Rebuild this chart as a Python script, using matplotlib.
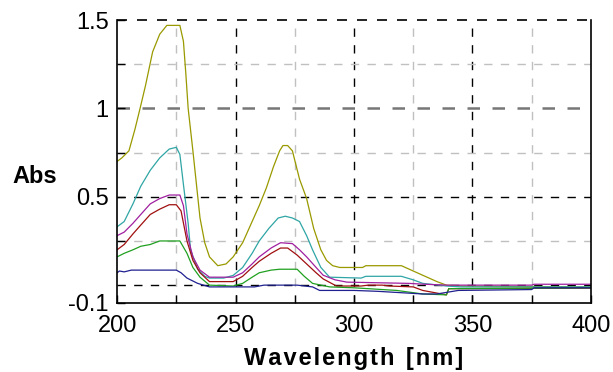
import matplotlib
matplotlib.use("Agg")
import matplotlib.pyplot as plt

plt.rcParams['font.family'] = ['Liberation Sans', 'DejaVu Sans']

# spectra (wavelength in nm, absorbance)
olive_x = [200, 202, 205, 207.5, 209.7, 212, 215, 218, 221, 226.5, 228, 229, 230, 232, 235, 237, 239,
           242.5, 246, 249, 253, 257, 260, 263, 266, 268.6, 270, 272, 274, 277, 280, 283, 286, 288.4,
           291, 294, 303.6, 305, 320, 325, 330, 335, 339, 345, 400]
olive_y = [0.70, 0.72, 0.76, 0.88, 1.00, 1.13, 1.32, 1.42, 1.47, 1.47, 1.38, 1.20, 1.00, 0.76, 0.38,
           0.24, 0.16, 0.11, 0.12, 0.16, 0.24, 0.36, 0.45, 0.55, 0.67, 0.76, 0.79, 0.79, 0.76, 0.60,
           0.49, 0.32, 0.20, 0.14, 0.11, 0.10, 0.10, 0.11, 0.11, 0.08, 0.05, 0.02, 0.0, -0.005, -0.01]

teal_x = [200, 203, 206.7, 210, 214, 218, 222, 225, 226.5, 228, 230, 231, 234, 237, 239, 245, 249,
          253, 257, 260, 264, 268, 271, 274, 277, 280, 282.5, 286, 289.7, 303, 305, 320, 325, 329,
          339, 345, 400]
teal_y = [0.33, 0.36, 0.46, 0.56, 0.65, 0.72, 0.77, 0.78, 0.74, 0.57, 0.35, 0.20, 0.09, 0.05, 0.04,
          0.04, 0.055, 0.10, 0.18, 0.25, 0.32, 0.38, 0.39, 0.38, 0.36, 0.28, 0.20, 0.10, 0.045, 0.04,
          0.05, 0.05, 0.03, 0.01, -0.005, -0.01, -0.01]

magenta_x = [200, 203, 206.7, 210, 214, 218, 222, 226.5, 228, 229.5, 232, 235, 239, 249, 253, 257,
             260, 265, 269, 274, 277, 280, 284, 287, 292, 297, 323, 330, 339, 375, 376, 400]
magenta_y = [0.28, 0.30, 0.35, 0.40, 0.46, 0.49, 0.51, 0.51, 0.45, 0.29, 0.16, 0.085, 0.045, 0.045,
             0.07, 0.12, 0.16, 0.21, 0.24, 0.235, 0.20, 0.16, 0.10, 0.056, 0.03, 0.017, 0.01, 0.005,
             0.0, 0.0, 0.005, 0.005]

red_x = [200, 203, 206.7, 210, 214, 218, 222, 225, 227, 229.5, 232, 235, 239, 249, 253, 257, 260,
         265, 269, 272, 276, 280, 284, 287, 292.6, 303, 306, 312, 315, 325, 329, 339, 340, 400]
red_y = [0.20, 0.23, 0.29, 0.34, 0.40, 0.43, 0.455, 0.455, 0.42, 0.25, 0.14, 0.07, 0.02, 0.02, 0.05,
         0.10, 0.135, 0.18, 0.21, 0.21, 0.17, 0.12, 0.07, 0.035, -0.005, -0.005, 0.0, 0.0, -0.005,
         -0.01, -0.03, -0.055, -0.02, -0.017]

green_x = [200, 203, 206.7, 210, 214, 218, 226.5, 229.5, 232, 235, 239, 249, 253, 257, 260, 265,
           268.6, 276, 279, 282.5, 289.7, 300, 318, 329, 339, 340, 400]
green_y = [0.16, 0.18, 0.20, 0.22, 0.23, 0.25, 0.25, 0.18, 0.10, 0.045, 0.0, -0.005, 0.01, 0.045,
           0.07, 0.085, 0.09, 0.09, 0.05, 0.01, -0.01, -0.015, -0.03, -0.05, -0.055, -0.02, -0.015]

navy_x = [200, 201, 203, 206, 225, 227, 229.5, 234, 239, 258, 260, 262, 276, 282.5, 285.5, 300,
          310, 329, 335, 344, 375, 376, 400]
navy_y = [0.07, 0.08, 0.075, 0.085, 0.085, 0.07, 0.04, 0.01, -0.01, -0.01, -0.005, 0.0, 0.0, -0.01,
          -0.03, -0.03, -0.035, -0.05, -0.05, -0.03, -0.025, -0.015, -0.015]

series = [
    (olive_x, olive_y, "#999900"),
    (teal_x, teal_y, "#2fa5a5"),
    (magenta_x, magenta_y, "#a020a0"),
    (red_x, red_y, "#a01010"),
    (green_x, green_y, "#20a020"),
    (navy_x, navy_y, "#202090"),
]

fig = plt.figure(figsize=(6.13, 3.72), dpi=100)
ax = fig.add_axes([0.191, 0.186, 0.773, 0.760])

# grid: black for the main lines, light grey in between
for x in [225, 275, 325, 375]:
    ax.axvline(x, color="#c0c0c0", lw=1, ls=(0, (6, 6)), zorder=0)
for x in [250, 300, 350]:
    ax.axvline(x, color="black", lw=1, ls=(0, (6, 6)), zorder=0)
for y in [0.25, 0.75, 1.25]:
    ax.axhline(y, color="#c0c0c0", lw=1, ls=(0, (6, 6)), zorder=0)
for y in [0.0, 0.5]:
    ax.axhline(y, color="black", lw=1, ls=(0, (6, 6)), zorder=0)
ax.axhline(1.0, color="#777777", lw=1.8, ls=(0, (5, 5)), zorder=0)
ax.axhline(1.5, color="black", lw=1.2, ls=(0, (6, 6)), zorder=0, clip_on=False)

for xs, ys, c in series:
    ax.plot(xs, ys, color=c, lw=0.9)

ax.set_xlim(200, 400)
ax.set_ylim(-0.1, 1.5)
ax.set_xticks([200, 250, 300, 350, 400])
ax.set_xticks([225, 275, 325, 375], minor=True)
ax.set_yticks([-0.1, 0.5, 1, 1.5])
ax.set_yticklabels(["-0.1", "0.5", "1", "1.5"])
ax.set_yticks([0.25, 0.75, 1.25], minor=True)
ax.tick_params(which="both", direction="in", length=6, width=1, labelsize=17,
               top=False, right=False)
ax.tick_params(axis="x", pad=9)
ax.tick_params(axis="y", pad=6)
ax.spines["top"].set_visible(False)
for s in ["left", "right", "bottom"]:
    ax.spines[s].set_linewidth(1.2)

# the label in the reference is letter-spaced
xlabel = "\u200a".join("Wavelength") + " \u2009" + "\u200a".join("[nm]")
ax.set_xlabel(xlabel, fontsize=17, fontweight="bold", labelpad=7)
fig.text(0.02, 0.525, "Abs", fontsize=17, fontweight="bold", ha="left", va="center")

fig.savefig("out.png", dpi=100)
